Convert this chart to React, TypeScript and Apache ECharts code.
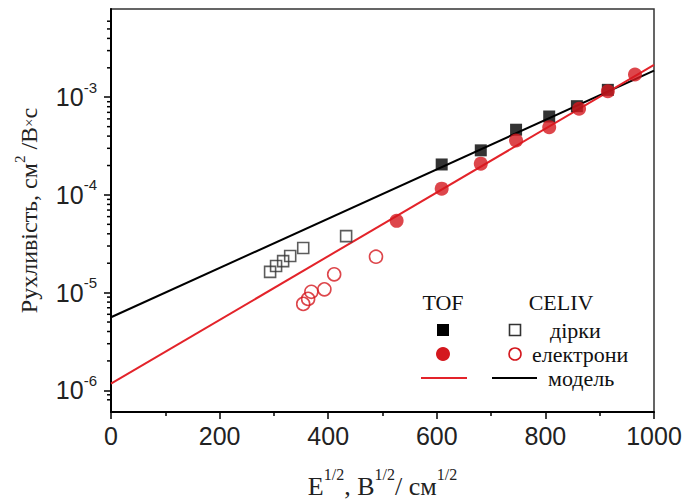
import React, { useEffect, useRef } from 'react';
import * as echarts from 'echarts';

// ---- data (mobility in cm^2/(V·s) vs sqrt(E)) ----
const tofHoleX = [609, 681, 746, 807, 858, 915];
const tofHoles = [2.05e-4, 2.86e-4, 4.65e-4, 6.35e-4, 8.1e-4, 1.19e-3];
const tofElectronX = [526, 609, 681, 746, 807, 862, 915, 965];
const tofElectrons = [5.43e-5, 1.16e-4, 2.09e-4, 3.61e-4, 4.94e-4, 7.62e-4, 1.15e-3, 1.71e-3];
const celivHoleX = [293, 304, 317, 330, 354, 433];
const celivHoles = [1.63e-5, 1.87e-5, 2.1e-5, 2.37e-5, 2.86e-5, 3.79e-5];
const celivElectronX = [354, 363, 369, 393, 411, 488];
const celivElectrons = [7.67e-6, 8.63e-6, 1.02e-5, 1.08e-5, 1.54e-5, 2.33e-5];
const modelX = [0, 1000];
const modelHoles = [5.6e-6, 1.87e-3];
const modelElectrons = [1.17e-6, 2.14e-3];

const xTickLabels = [0, 200, 400, 600, 800, 1000];
const yDecades = [1e-6, 1e-5, 1e-4, 1e-3];
const Y_MIN = 6e-7;
const Y_MAX = 8e-3;

const lg = (v: number) => Math.log10(v);
const pts = (xs: number[], ys: number[]) => xs.map((x, i) => [x, lg(ys[i])]);

const minorVals: number[] = [];
for (let n = -7; n <= -3; n++) {
  for (let k = 2; k <= 9; k++) {
    const v = k * Math.pow(10, n);
    if (v >= Y_MIN * 1.001 && v <= Y_MAX * 0.999) minorVals.push(lg(v));
  }
}

const SERIF = '"Liberation Serif", "DejaVu Serif", serif';
const SANS = '"Liberation Sans", Arial, sans-serif';
const RED = '#d4181e';

const GRID_RECT = { left: 111, right: 31, top: 9, bottom: 92 };

export default function App() {
  const ref = useRef<HTMLDivElement>(null);
  useEffect(() => {
    if (!ref.current) return;
    const chart = echarts.init(ref.current, undefined, { renderer: 'svg' });
    chart.setOption({
      animation: false,
      backgroundColor: '#fff',
      grid: [
        {
          ...GRID_RECT,
          show: true,
          borderColor: '#333',
          borderWidth: 1.5,
          backgroundColor: 'transparent',
        },
        { ...GRID_RECT, show: false },
      ],
      xAxis: [
        {
          type: 'value',
          gridIndex: 0,
          min: xTickLabels[0],
          max: xTickLabels[xTickLabels.length - 1],
          interval: 200,
          axisLine: { show: true, lineStyle: { color: '#000', width: 2 } },
          axisTick: { show: true, inside: false, length: 7, lineStyle: { color: '#000', width: 1.5 } },
          minorTick: { show: true, splitNumber: 2, length: 4, lineStyle: { color: '#000', width: 1.5 } },
          splitLine: { show: false },
          axisLabel: {
            fontFamily: SANS,
            fontSize: 25,
            color: '#222',
            margin: 11,
            formatter: (v: number) => String(v),
          },
          name: '{m|E}{s|1/2}{m|, В}{s|1/2}{m|/ см}{s|1/2}',
          nameLocation: 'middle',
          nameGap: 54,
          nameTextStyle: {
            fontFamily: SERIF,
            color: '#222',
            rich: {
              m: { fontFamily: SERIF, fontSize: 26, color: '#222' },
              s: { fontFamily: SERIF, fontSize: 16, color: '#222', padding: [0, 0, 24, 0] },
            },
          },
        },
        {
          type: 'value',
          gridIndex: 1,
          min: xTickLabels[0],
          max: xTickLabels[xTickLabels.length - 1],
          show: false,
        },
      ],
      yAxis: [
        {
          type: 'value',
          gridIndex: 0,
          min: lg(Y_MIN),
          max: lg(Y_MAX),
          position: 'left',
          splitLine: { show: false },
          axisLine: { show: true, lineStyle: { color: '#000', width: 2 } },
          axisTick: {
            show: true,
            inside: false,
            length: 7,
            customValues: yDecades.map(lg),
            lineStyle: { color: '#000', width: 1.5 },
          },
          axisLabel: {
            customValues: yDecades.map(lg),
            margin: 14,
            formatter: (v: number) => `{b|10}{s|${Math.round(v)}}`,
            rich: {
              b: { fontFamily: SANS, fontSize: 25, color: '#222' },
              s: { fontFamily: SANS, fontSize: 15, color: '#222', padding: [0, 0, 20, 0] },
            },
          },
          name: '{m|Рухливість, см}{s|2}{m| /В}{x|×}{m|с}',
          nameLocation: 'middle',
          nameRotate: 90,
          nameGap: 66,
          nameTextStyle: {
            fontFamily: SERIF,
            color: '#222',
            rich: {
              m: { fontFamily: SERIF, fontSize: 24, color: '#222' },
              s: { fontFamily: SERIF, fontSize: 15, color: '#222', padding: [0, 0, 18, 0] },
              x: { fontFamily: SERIF, fontSize: 15, color: '#222' },
            },
          },
        },
        {
          // minor log ticks, drawn as small bars placed by the axis at each minor value
          type: 'value',
          gridIndex: 1,
          min: lg(Y_MIN),
          max: lg(Y_MAX),
          position: 'left',
          splitLine: { show: false },
          axisLine: { show: false },
          axisTick: { show: false },
          axisLabel: {
            show: true,
            customValues: minorVals,
            margin: 0,
            formatter: () => '{t|}',
            rich: {
              t: { width: 4, height: 1.5, lineHeight: 1.5, backgroundColor: '#000' },
            },
          },
        },
      ],
      series: [
        {
          type: 'line',
          data: pts(modelX, modelHoles),
          symbol: 'none',
          lineStyle: { color: '#000', width: 2 },
          z: 2,
        },
        {
          type: 'line',
          data: pts(modelX, modelElectrons),
          symbol: 'none',
          lineStyle: { color: '#e3232a', width: 2 },
          z: 2,
        },
        {
          type: 'scatter',
          data: pts(celivHoleX, celivHoles),
          symbol: 'rect',
          symbolSize: 11,
          itemStyle: { color: 'transparent', borderColor: '#333', borderWidth: 1.6 },
          z: 3,
        },
        {
          type: 'scatter',
          data: pts(celivElectronX, celivElectrons),
          symbol: 'circle',
          symbolSize: 13,
          itemStyle: { color: 'transparent', borderColor: RED, borderWidth: 1.6 },
          z: 3,
        },
        {
          type: 'scatter',
          data: pts(tofHoleX, tofHoles),
          symbol: 'rect',
          symbolSize: 12,
          itemStyle: { color: '#000' },
          z: 4,
        },
        {
          type: 'scatter',
          data: pts(tofElectronX, tofElectrons),
          symbol: 'circle',
          symbolSize: 14,
          itemStyle: { color: RED },
          z: 5,
        },
        {
          type: 'scatter',
          xAxisIndex: 1,
          yAxisIndex: 1,
          data: [],
          silent: true,
        },
      ],
      graphic: [
        { type: 'text', x: 443, y: 302, style: { text: 'TOF', font: `22px ${SERIF}`, fill: '#111', align: 'center', verticalAlign: 'middle' } },
        { type: 'text', x: 561, y: 302, style: { text: 'CELIV', font: `22px ${SERIF}`, fill: '#111', align: 'center', verticalAlign: 'middle' } },
        { type: 'rect', shape: { x: 437, y: 324, width: 12, height: 12 }, style: { fill: '#000' } },
        { type: 'rect', shape: { x: 509.5, y: 324.5, width: 11, height: 11 }, style: { fill: 'transparent', stroke: '#333', lineWidth: 1.6 } },
        { type: 'text', x: 550, y: 330, style: { text: 'дірки', font: `22px ${SERIF}`, fill: '#111', align: 'left', verticalAlign: 'middle' } },
        { type: 'circle', shape: { cx: 443, cy: 354, r: 7 }, style: { fill: RED } },
        { type: 'circle', shape: { cx: 515, cy: 354, r: 6 }, style: { fill: 'transparent', stroke: RED, lineWidth: 1.6 } },
        { type: 'text', x: 532, y: 354, style: { text: 'електрони', font: `22px ${SERIF}`, fill: '#111', align: 'left', verticalAlign: 'middle' } },
        { type: 'line', shape: { x1: 421, y1: 378, x2: 467, y2: 378 }, style: { stroke: '#e3232a', lineWidth: 2 } },
        { type: 'line', shape: { x1: 492, y1: 378, x2: 537, y2: 378 }, style: { stroke: '#000', lineWidth: 2 } },
        { type: 'text', x: 548, y: 378, style: { text: 'модель', font: `22px ${SERIF}`, fill: '#111', align: 'left', verticalAlign: 'middle' } },
      ],
    });
    return () => chart.dispose();
  }, []);
  return (
    <div
      ref={ref}
      style={{ position: 'fixed', left: 0, top: 0, width: 685, height: 504, background: '#fff' }}
    />
  );
}
